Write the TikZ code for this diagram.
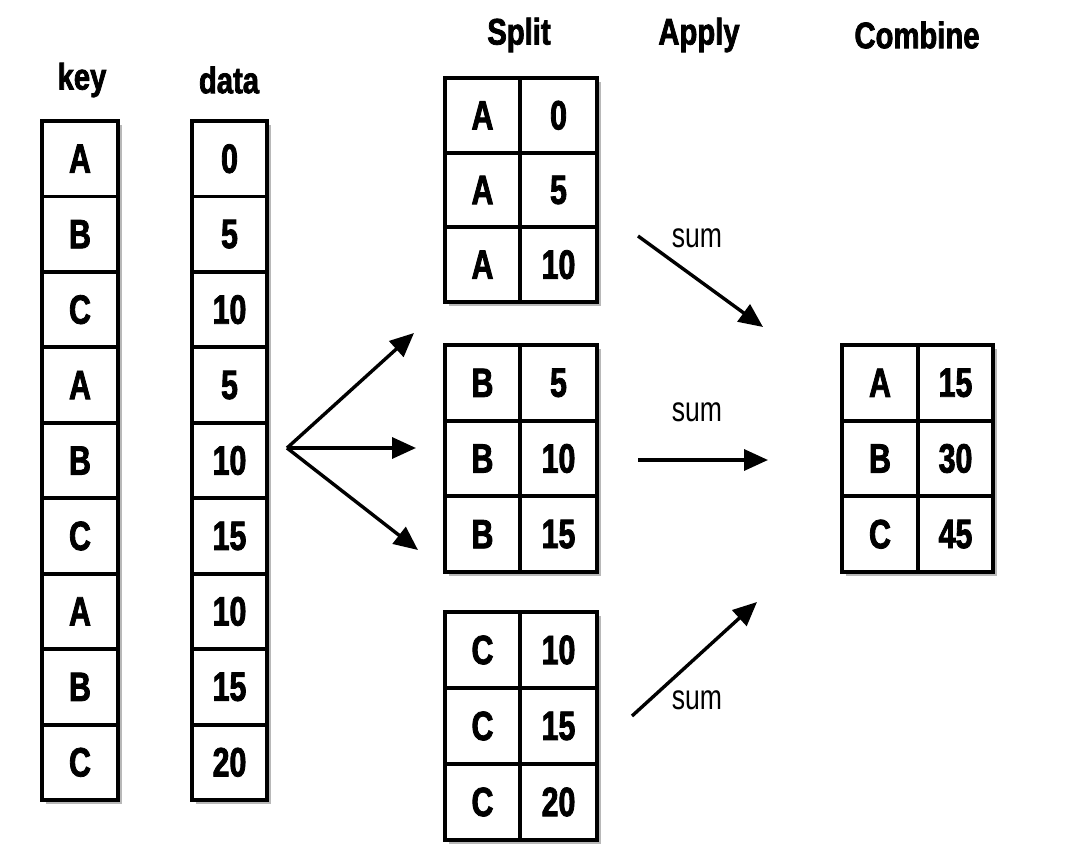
\documentclass[tikz,border=0pt]{standalone}
\usepackage{fontspec}
\setmainfont{Liberation Sans}[FakeStretch=0.74,BoldFeatures={FakeBold=2}]
\newfontfamily\hdrfont{Liberation Sans}[FakeStretch=0.79,BoldFeatures={FakeBold=2}]
\newfontfamily\sumfont{Liberation Sans}[FakeStretch=0.76]
\usetikzlibrary{arrows.meta,shadows}
\begin{document}
\begin{tikzpicture}[x=1pt,y=-1pt,
  tbl/.style={draw=black,line width=4.4pt,fill=white,
    drop shadow={shadow xshift=4pt,shadow yshift=-4pt,fill=black,opacity=0.28}},
  cell/.style={draw=black,line width=3.8pt,inner sep=0pt,font=\bfseries\fontsize{41}{44}\selectfont},
  hdr/.style={font=\hdrfont\bfseries\fontsize{37}{40}\selectfont,inner sep=0pt},
  lbl/.style={font=\sumfont\fontsize{35}{38}\selectfont,inner sep=0pt},
  arr/.style={line width=3.4pt,-{Triangle[length=24pt,width=21pt]}}]
\useasboundingbox (0,0) rectangle (1070,866);
% headers
\node[hdr] (hkey) at (82,80) {key};
\node[hdr] (hdata) at (229,80) {data};
\node[hdr] (hsplit) at (519,35) {Split};
\node[hdr] (happly) at (699,35) {Apply};
\node[hdr] (hcomb) at (917,35) {Combine};
% key and data columns
\node[tbl,minimum width=76pt,minimum height=679pt] (keytab) at (80,460.5) {};
\node[tbl,minimum width=75pt,minimum height=679pt] (datatab) at (229.5,460.5) {};
\foreach \t [count=\i] in {A,B,C,A,B,C,A,B,C}
  \node[cell,minimum width=76pt,minimum height=75.45pt] (k\i) at (80,{121+75.45*(\i-0.5)}) {\t};
\foreach \t [count=\i] in {0,5,10,5,10,15,10,15,20}
  \node[cell,minimum width=75pt,minimum height=75.45pt] (d\i) at (229.5,{121+75.45*(\i-0.5)}) {\t};
% split tables
\node[tbl,minimum width=152pt,minimum height=224pt] (tA) at (521,190) {};
\node[tbl,minimum width=152pt,minimum height=227pt] (tB) at (521,458.5) {};
\node[tbl,minimum width=152pt,minimum height=228pt] (tC) at (521,726) {};
\node[tbl,minimum width=151pt,minimum height=227pt] (tR) at (917.5,458.5) {};
\foreach \k/\v [count=\i] in {A/0,A/5,A/10} {
  \node[cell,minimum width=75pt,minimum height=74.67pt] (a\i k) at (482.5,{78+74.67*(\i-0.5)}) {\k};
  \node[cell,minimum width=77pt,minimum height=74.67pt] (a\i v) at (558.5,{78+74.67*(\i-0.5)}) {\v};
}
\foreach \k/\v [count=\i] in {B/5,B/10,B/15} {
  \node[cell,minimum width=75pt,minimum height=75.67pt] (b\i k) at (482.5,{345+75.67*(\i-0.5)}) {\k};
  \node[cell,minimum width=77pt,minimum height=75.67pt] (b\i v) at (558.5,{345+75.67*(\i-0.5)}) {\v};
}
\foreach \k/\v [count=\i] in {C/10,C/15,C/20} {
  \node[cell,minimum width=75pt,minimum height=76pt] (c\i k) at (482.5,{612+76*(\i-0.5)}) {\k};
  \node[cell,minimum width=77pt,minimum height=76pt] (c\i v) at (558.5,{612+76*(\i-0.5)}) {\v};
}
\foreach \k/\v [count=\i] in {A/15,B/30,C/45} {
  \node[cell,minimum width=76pt,minimum height=75.67pt] (r\i k) at (880,{345+75.67*(\i-0.5)}) {\k};
  \node[cell,minimum width=75pt,minimum height=75.67pt] (r\i v) at (955.5,{345+75.67*(\i-0.5)}) {\v};
}
% split arrows
\coordinate (fan) at (287,448);
\coordinate (fanA) at (414,333);
\coordinate (fanB) at (416,448);
\coordinate (fanC) at (418,550);
\draw[arr] (fan) -- (fanA);
\draw[arr] (fan) -- (fanB);
\draw[arr] (fan) -- (fanC);
% apply arrows
\coordinate (sA0) at (638,236);
\coordinate (sA1) at (763,327);
\coordinate (sB0) at (638,460);
\coordinate (sB1) at (768,460);
\coordinate (sC0) at (632,716);
\coordinate (sC1) at (757,602);
\draw[arr] (sA0) -- (sA1);
\draw[arr] (sB0) -- (sB1);
\draw[arr] (sC0) -- (sC1);
\node[lbl] (lA) at (697,238) {sum};
\node[lbl] (lB) at (697,412) {sum};
\node[lbl] (lC) at (697,700) {sum};
\end{tikzpicture}
\end{document}
